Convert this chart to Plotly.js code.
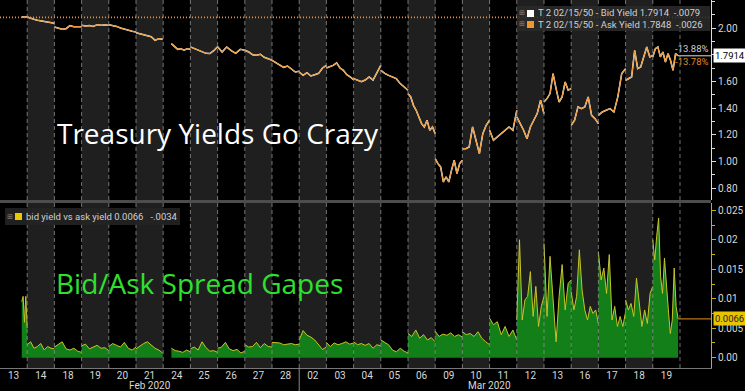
<!DOCTYPE html>
<html><head><meta charset="utf-8">
<script src="https://cdn.plot.ly/plotly-3.0.1.min.js"></script>
<style>html,body{margin:0;padding:0;background:#000;overflow:hidden}#chart{width:745px;height:391px}</style>
</head><body><div id="chart"></div>
<script>
// ---- data ----
const dayLabels = ['13','14','18','19','20','21','24','25','26','27','28','02','03','04','05','06','09','10','11','12','13','16','17','18','19'];
const monthLabels = ['Feb 2020', 'Mar 2020'];
const monthStartDay = [0, 11];
// fraction of each day column where the session's data begins / ends
const sessionStart = [0.8,0,0,0,0,0,0.3,0,0,0,0,0,0,0,0,0,0,0,0,0,0,0,0,0,0];
const sessionEnd   = [1,1,1,1,1,0.98,1,1,1,1,1,1,1,1,1,1,1,1,1,1,1,1,1,1,0.93];

const bidYield = [
  [2.083, 2.083],
  [2.083, 2.072, 2.065, 2.058, 2.053, 2.05, 2.045, 2.04, 2.035],
  [2.008, 2.0, 1.99, 1.995, 2.018, 2.01, 2.012, 2.01],
  [2.02, 2.015, 2.018, 2.012, 2.025, 2.02, 2.022, 2.02],
  [2.025, 2.02, 2.012, 2.0, 1.99, 1.983, 1.975, 1.97],
  [1.965, 1.958, 1.95, 1.945, 1.935, 1.908, 1.92, 1.915],
  [1.883, 1.86, 1.84, 1.845, 1.833, 1.845, 1.84],
  [1.858, 1.845, 1.833, 1.82, 1.81, 1.808, 1.83, 1.86],
  [1.86, 1.82, 1.858, 1.83, 1.81, 1.84, 1.833],
  [1.833, 1.82, 1.80, 1.795, 1.803, 1.78, 1.77, 1.758],
  [1.758, 1.74, 1.72, 1.705, 1.715, 1.69, 1.67, 1.675],
  [1.67, 1.645, 1.665, 1.64, 1.65, 1.66, 1.70, 1.72],
  [1.70, 1.708, 1.72, 1.738, 1.70, 1.683, 1.65, 1.633, 1.613],
  [1.62, 1.61, 1.598, 1.61, 1.633, 1.61, 1.66, 1.72],
  [1.683, 1.66, 1.645, 1.633, 1.62, 1.583, 1.56, 1.533],
  [1.508, 1.483, 1.42, 1.383, 1.333, 1.283, 1.258, 1.308, 1.233, 1.258, 1.208],
  [1.02, 0.983, 0.958, 0.845, 0.883, 0.845, 0.933, 1.008, 0.908, 0.983, 1.008],
  [1.095, 1.095, 1.108, 1.258, 1.158, 1.058, 1.208, 1.27, 1.308],
  [1.233, 1.158, 1.183, 1.208, 1.233, 1.258, 1.233, 1.383],
  [1.333, 1.283, 1.233, 1.17, 1.258, 1.308, 1.358, 1.458, 1.358],
  [1.445, 1.47, 1.508, 1.658, 1.545, 1.445, 1.483, 1.595, 1.533, 1.545],
  [1.27, 1.308, 1.408, 1.395, 1.408, 1.483, 1.345, 1.32, 1.283],
  [1.345, 1.37, 1.383, 1.395, 1.37, 1.483, 1.658, 1.695],
  [1.608, 1.62, 1.633, 1.833, 1.695, 1.708, 1.783, 1.858, 1.783, 1.795],
  [1.783, 1.845, 1.858, 1.783, 1.82, 1.745, 1.808, 1.758, 1.683, 1.808, 1.7914]
];

const bidAskSpread = [
  [0.0095, 0.0104, 0.006, 0.0104, 0.005],
  [0.0022, 0.0027, 0.0016, 0.0019, 0.0024, 0.0013, 0.0019, 0.0016, 0.0015],
  [0.0018, 0.0022, 0.0027, 0.0015, 0.0013, 0.0016, 0.0011, 0.0009],
  [0.002, 0.0023, 0.0015, 0.0018, 0.0021, 0.0016, 0.0017, 0.0012],
  [0.0019, 0.0024, 0.0021, 0.0018, 0.0026, 0.0016, 0.0013, 0.0018],
  [0.0015, 0.002, 0.0024, 0.0027, 0.0022, 0.0016, 0.0013, 0.0008],
  [0.0016, 0.0012, 0.0011, 0.0009, 0.0013, 0.0010],
  [0.0015, 0.0018, 0.0013, 0.0027, 0.0017, 0.0011, 0.0012, 0.0009],
  [0.0016, 0.0018, 0.0026, 0.0015, 0.0012, 0.0014, 0.0008, 0.0011],
  [0.0022, 0.0018, 0.0019, 0.0026, 0.0017, 0.0024, 0.0019, 0.0018],
  [0.0026, 0.0025, 0.0025, 0.0022, 0.0023, 0.0024, 0.0022, 0.0023],
  [0.003, 0.0046, 0.0038, 0.0035, 0.003, 0.0022, 0.0014, 0.0018],
  [0.0026, 0.0019, 0.0025, 0.0022, 0.0024, 0.0027, 0.0023, 0.0025],
  [0.0027, 0.0022, 0.0024, 0.0021, 0.0024, 0.0016, 0.0022, 0.002],
  [0.003, 0.0026, 0.0022, 0.0013, 0.001, 0.0016, 0.0011, 0.0008],
  [0.0041, 0.0036, 0.0047, 0.0033, 0.0039, 0.003, 0.0034, 0.0027],
  [0.0045, 0.0036, 0.004, 0.0038, 0.0042, 0.0036, 0.0039, 0.0035],
  [0.0044, 0.0039, 0.0041, 0.0036, 0.0044, 0.0033, 0.0027, 0.0022],
  [0.0067, 0.0056, 0.0061, 0.0039, 0.0053, 0.0036, 0.0047, 0.003],
  [0.0064, 0.020, 0.0064, 0.0098, 0.0104, 0.0146, 0.007, 0.0121, 0.0053, 0.0087, 0.0104],
  [0.0194, 0.007, 0.0172, 0.0098, 0.0027, 0.0104, 0.0158, 0.0081, 0.0126, 0.0132],
  [0.0112, 0.0081, 0.0104, 0.0183, 0.0115, 0.0081, 0.0064, 0.0087, 0.0075, 0.0081, 0.0058],
  [0.018, 0.0132, 0.0152, 0.0109, 0.0175, 0.0064, 0.0087, 0.0053, 0.007, 0.0053, 0.0078],
  [0.0098, 0.0081, 0.0092, 0.007, 0.0135, 0.0092, 0.0053, 0.0081, 0.0058, 0.0109, 0.0121],
  [0.020, 0.0166, 0.0206, 0.0237, 0.0138, 0.0109, 0.0169, 0.0115, 0.0081, 0.0041, 0.0064, 0.0152, 0.0087, 0.0066]
];

const prevCloseYield = 2.08;
const lastBid = 1.7914, lastAsk = 1.7848, lastSpread = 0.0066;
const legendTop = ['T 2 02/15/50 - Bid Yield 1.7914  -.0079', 'T 2 02/15/50 - Ask Yield 1.7848  -.0026'];
const legendBottom = 'bid yield vs ask yield 0.0066   -.0034';
const pctLabels = ['-13.88%', '-13.78%'];
const yTicks = [0.8, 1.0, 1.2, 1.4, 1.6, 1.8, 2.0];
const yTickText = ['0.80', '1.00', '1.20', '1.40', '1.60', '', '2.00']; // 1.80 is hidden under the last-value tag
const y2Ticks = [0, 0.005, 0.01, 0.015, 0.02, 0.025];
const y2TickText = ['0.00', '0.005', '0.01', '0.015', '0.02', '0.025'];

// ---- build ----
const nDays = dayLabels.length;
function dayX(i, n) {
  const s = i + sessionStart[i], e = i + sessionEnd[i];
  const out = [];
  for (let k = 0; k < n; k++) out.push(s + (e - s) * k / (n - 1));
  return out;
}
const tx = [], ty = [];
bidYield.forEach((vals, i) => {
  const xs = dayX(i, vals.length);
  xs.forEach((x, k) => { tx.push(x); ty.push(vals[k]); });
  tx.push(null); ty.push(null);
});
const lastX = nDays - 1 + sessionEnd[nDays - 1];

const traces = [];
traces.push({x: tx, y: ty, type: 'scatter', mode: 'lines', xaxis: 'x', yaxis: 'y',
  line: {color: '#ffffff', width: 1.5}, connectgaps: false, hoverinfo: 'skip', name: 'Bid'});
traces.push({x: tx, y: ty, type: 'scatter', mode: 'lines', xaxis: 'x', yaxis: 'y',
  line: {color: '#f0962e', width: 1.1}, connectgaps: false, hoverinfo: 'skip', name: 'Ask'});
bidAskSpread.forEach((vals, i) => {
  traces.push({x: dayX(i, vals.length), y: vals, type: 'scatter', mode: 'lines', xaxis: 'x', yaxis: 'y2',
    fill: 'tozeroy', fillcolor: '#137f19', line: {color: '#c8c42a', width: 1}, hoverinfo: 'skip'});
});

const W = 711, H = 368;
const px = v => v / W;
const py = v => (H - v) / H;

const shapes = [];
for (let i = 0; i < nDays; i++) {
  if (i % 2 === 1) shapes.push({type: 'rect', xref: 'x', yref: 'paper', x0: i, x1: i + 1, y0: 0, y1: 1,
    fillcolor: '#1f1f1f', line: {width: 0}, layer: 'below'});
}
for (let i = 1; i <= nDays; i++) {
  shapes.push({type: 'line', xref: 'x', yref: 'paper', x0: i, x1: i, y0: 0, y1: 1,
    line: {color: 'rgba(150,150,150,0.75)', width: 1, dash: '4px,3px'}, layer: 'above'});
}
shapes.push({type: 'rect', xref: 'paper', yref: 'paper', x0: 0, x1: 1, y0: py(203), y1: py(200),
  fillcolor: '#4d4d4d', line: {width: 0}, layer: 'above'});
shapes.push({type: 'line', xref: 'paper', yref: 'y', x0: 0, x1: 1, y0: prevCloseYield, y1: prevCloseYield,
  line: {color: '#e09040', width: 1.6, dash: '1px,2px'}, layer: 'above'});
shapes.push({type: 'line', xref: 'x', yref: 'y', x0: lastX, x1: 26.14, y0: lastBid, y1: lastBid,
  line: {color: '#dddddd', width: 1}});
shapes.push({type: 'line', xref: 'x', yref: 'y2', x0: lastX, x1: 26.14, y0: lastSpread, y1: lastSpread,
  line: {color: '#b77516', width: 1.2}});
shapes.push({type: 'line', xref: 'x', yref: 'paper', x0: monthStartDay[1], x1: monthStartDay[1], y0: py(391), y1: 0,
  line: {color: '#888', width: 1}});
shapes.push({type: 'rect', xref: 'paper', yref: 'paper', x0: px(517), x1: px(710), y0: py(31), y1: py(6),
  fillcolor: 'rgba(42,42,42,0.88)', line: {width: 0}, layer: 'above'});
shapes.push({type: 'rect', xref: 'paper', yref: 'paper', x0: px(527), x1: px(534), y0: py(17), y1: py(10),
  fillcolor: '#ffffff', line: {width: 0}, layer: 'above'});
shapes.push({type: 'rect', xref: 'paper', yref: 'paper', x0: px(527), x1: px(534), y0: py(28), y1: py(21),
  fillcolor: '#f0962e', line: {width: 0}, layer: 'above'});
shapes.push({type: 'rect', xref: 'paper', yref: 'paper', x0: px(5), x1: px(180), y0: py(225), y1: py(208),
  fillcolor: 'rgba(36,36,36,0.9)', line: {width: 0}, layer: 'above'});
shapes.push({type: 'rect', xref: 'paper', yref: 'paper', x0: px(15), x1: px(22), y0: py(220), y1: py(213),
  fillcolor: '#e8c800', line: {width: 0}, layer: 'above'});

const tickFont = {family: 'Roboto, sans-serif', size: 10, color: '#d8d8d8'};
function ann(text, x, y, xanchor, font, extra) {
  return Object.assign({text: text, xref: 'paper', yref: 'paper', x: px(x), y: py(y),
    xanchor: xanchor, yanchor: 'middle', showarrow: false, font: font}, extra || {});
}
const smallFont = {family: 'Roboto, sans-serif', size: 9.5, color: '#d0d0d0'};
const iconFont = {family: 'DejaVu Sans', size: 7, color: '#888'};
const annotations = [
  ann('Treasury Yields Go Crazy', 218, 133, 'center', {family: 'Open Sans, sans-serif', size: 28, color: '#ffffff'}),
  ann('Bid/Ask Spread Gapes', 199, 283, 'center', {family: 'Open Sans, sans-serif', size: 28, color: '#2fe02f'}),
  ann(legendTop[0], 536, 13, 'left', smallFont),
  ann(legendTop[1], 536, 24.5, 'left', smallFont),
  ann('⊞', 522, 13, 'center', iconFont),
  ann('⊞', 522, 24.5, 'center', iconFont),
  ann(legendBottom, 24, 216.5, 'left', smallFont),
  ann('⊞', 10, 216.5, 'center', iconFont),
  ann(pctLabels[0], 710, 48.5, 'right', {family: 'Roboto, sans-serif', size: 9.5, color: '#cfcfcf'}),
  ann(pctLabels[1], 710, 61, 'right', {family: 'Roboto, sans-serif', size: 9.5, color: '#e08a2a'}),
  {text: lastBid.toFixed(4), xref: 'paper', yref: 'y', x: px(713), y: lastBid, xanchor: 'left', yanchor: 'middle',
    showarrow: false, bgcolor: '#ffffff', borderpad: 1, font: {family: 'Roboto, sans-serif', size: 9.5, color: '#000'}},
  {text: lastSpread.toFixed(4), xref: 'paper', yref: 'y2', x: px(713), y: lastSpread, xanchor: 'left', yanchor: 'middle',
    showarrow: false, bgcolor: '#e8c400', borderpad: 1, font: {family: 'Roboto, sans-serif', size: 9.5, color: '#222'}},
  ann(monthLabels[0], 150, 385, 'center', tickFont),
  ann(monthLabels[1], 489, 385, 'center', tickFont)
];

const layout = {
  width: 745, height: 391,
  margin: {l: 0, r: 34, t: 0, b: 23},
  paper_bgcolor: '#000', plot_bgcolor: '#000',
  showlegend: false,
  xaxis: {domain: [0, 1], range: [0, 26.14], anchor: 'y2', tickmode: 'array',
    tickvals: dayLabels.map((_, i) => i + 0.5), ticktext: dayLabels, ticks: '',
    showgrid: false, zeroline: false, showline: true, linecolor: '#777', linewidth: 1,
    tickfont: tickFont, ticklabelstandoff: -2, fixedrange: true},
  yaxis: {domain: [py(200), 1], range: [0.71, 2.21], anchor: 'x', side: 'right',
    tickmode: 'array', tickvals: yTicks, ticktext: yTickText,
    ticks: 'outside', ticklen: 4, tickcolor: '#ddd', showline: true, linecolor: '#ddd', linewidth: 1,
    showgrid: false, zeroline: false, tickfont: tickFont,
    minor: {dtick: 0.1, tick0: 0, ticks: 'outside', ticklen: 3, tickcolor: '#ddd', showgrid: false}},
  yaxis2: {domain: [0, py(203)], range: [-0.00175, 0.02624], anchor: 'x', side: 'right',
    tickmode: 'array', tickvals: y2Ticks, ticktext: y2TickText,
    ticks: 'outside', ticklen: 4, tickcolor: '#c8b400', showline: true, linecolor: '#c8b400', linewidth: 1,
    showgrid: false, zeroline: false, tickfont: tickFont,
    minor: {dtick: 0.0025, tick0: 0, ticks: 'outside', ticklen: 3, tickcolor: '#c8b400', showgrid: false}},
  shapes: shapes,
  annotations: annotations
};

Plotly.newPlot('chart', traces, layout, {staticPlot: true, displayModeBar: false});
</script></body></html>
